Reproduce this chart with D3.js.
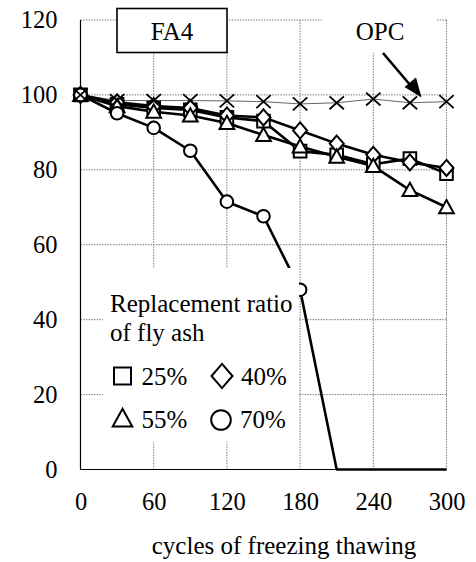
<!DOCTYPE html>
<html>
<head>
<meta charset="utf-8">
<script src="https://cdn.jsdelivr.net/npm/d3@7"></script>
<style>
  html, body { margin: 0; padding: 0; background: #fff; }
  svg { display: block; }
</style>
</head>
<body>
<svg id="chart" width="476" height="562"></svg>
<script>
// Freeze-thaw cycles (x) and relative dynamic modulus (%) for each fly ash replacement ratio
const cycles = [0, 30, 60, 90, 120, 150, 180, 210, 240, 270, 300];
const fa25 = [100, 97.5, 96.5, 96, 94, 93, 85, 84, 81.5, 83, 79];
const fa40 = [100, 98, 97, 96.5, 94.5, 94, 90.5, 87, 84, 82, 80.5];
const fa55 = [100, 97, 95.5, 94.5, 92.5, 89.3, 86.2, 83.5, 81, 74.6, 70];
const fa70 = [100, 95.1, 91.2, 85.1, 71.5, 67.6, 48, 0, 0, 0, 0];
const opc  = [100, 98.5, 98.5, 98.5, 98.4, 98.2, 97.6, 97.9, 98.9, 97.9, 98.2];

const xTicks = [0, 60, 120, 180, 240, 300];
const yTicks = [0, 20, 40, 60, 80, 100, 120];

const seriesNames = ["25%", "40%", "55%", "70%"];
const seriesShapes = ["square", "diamond", "triangle", "circle"];
const seriesValues = [fa25, fa40, fa55, fa70];

const xTitle = "cycles of freezing thawing";
const panelTitle = "FA4";
const opcLabel = "OPC";
const legendTitle = ["Replacement ratio", "of fly ash"];

const FONT = '"Liberation Serif"';

const svg = d3.select("#chart").style("font-family", FONT);
const x = d3.scaleLinear().domain([0, 300]).range([80.5, 446.5]);
const y = d3.scaleLinear().domain([0, 120]).range([469.5, 20]);

function label(sel, size) {
  return sel.style("font-family", FONT).attr("font-size", size).attr("fill", "#000");
}

// Custom outline symbols; size is the half-extent in pixels
const shapes = {
  square: { draw(c, s) { c.moveTo(-s, -s); c.lineTo(s, -s); c.lineTo(s, s); c.lineTo(-s, s); c.closePath(); } },
  diamond: { draw(c, s) { const w = s * 1.0, h = s * 1.15; c.moveTo(0, -h); c.lineTo(w, 0); c.lineTo(0, h); c.lineTo(-w, 0); c.closePath(); } },
  triangle: { draw(c, s) { const h = s * 1.9; c.moveTo(0, -h * 0.55); c.lineTo(s * 1.05, h * 0.45); c.lineTo(-s * 1.05, h * 0.45); c.closePath(); } },
  circle: { draw(c, s) { c.moveTo(s, 0); c.arc(0, 0, s, 0, 2 * Math.PI); } },
  times: { draw(c, s) { const h = s * 0.9; c.moveTo(-s, -h); c.lineTo(s, h); c.moveTo(s, -h); c.lineTo(-s, h); } }
};
const markerSize = { square: 6.3, diamond: 7, triangle: 7, circle: 6.3, times: 7.2 };

// Dotted grid
const grid = svg.append("g").attr("stroke", "#7a7a7a").attr("stroke-width", 1)
  .attr("stroke-dasharray", "1.5,1.2");
grid.selectAll("line.gx").data(xTicks.filter(d => d > 0)).join("line")
  .attr("x1", d => x(d)).attr("x2", d => x(d))
  .attr("y1", y(120)).attr("y2", y(0));
grid.selectAll("line.gy").data(yTicks.filter(d => d > 0)).join("line")
  .attr("x1", x(0)).attr("x2", x(300))
  .attr("y1", d => y(d)).attr("y2", d => y(d));

// White area behind the OPC callout
svg.append("rect").attr("x", 322).attr("y", 0).attr("width", 115).attr("height", 53).attr("fill", "#fff");

// Axes: solid left and bottom lines, labels from d3 axes
svg.append("line").attr("x1", x(0)).attr("x2", x(0)).attr("y1", y(120)).attr("y2", y(0))
  .attr("stroke", "#000").attr("stroke-width", 1.2);
svg.append("line").attr("x1", x(0)).attr("x2", x(300)).attr("y1", y(0)).attr("y2", y(0))
  .attr("stroke", "#000").attr("stroke-width", 1.2);

const yAxis = svg.append("g").attr("transform", `translate(${x(0)},0)`)
  .call(d3.axisLeft(y).tickValues(yTicks).tickSize(0).tickPadding(23).tickFormat(d3.format("d")));
const xAxis = svg.append("g").attr("transform", `translate(0,${y(0)})`)
  .call(d3.axisBottom(x).tickValues(xTicks).tickSize(0).tickPadding(23).tickFormat(d3.format("d")));
[yAxis, xAxis].forEach(a => {
  a.select(".domain").remove();
  a.attr("font-family", null).attr("font-size", null);
  label(a.selectAll("text"), 24.5);
});

label(svg.append("text").attr("x", 284).attr("y", 554).attr("text-anchor", "middle"), 25).text(xTitle);

// OPC reference line (thin)
const opcPts = cycles.map((c, i) => [c, opc[i]]);
svg.append("path").datum(opcPts)
  .attr("d", d3.line().x(d => x(d[0])).y(d => y(d[1])))
  .attr("fill", "none").attr("stroke", "#666").attr("stroke-width", 1);

// Fly ash series: thick lines with hollow markers
const line = d3.line().x(d => x(d[0])).y(d => y(d[1]));
seriesValues.forEach(vals => {
  const pts = cycles.map((c, i) => [c, vals[i]]);
  svg.append("path").datum(pts).attr("d", line)
    .attr("fill", "none").attr("stroke", "#000").attr("stroke-width", 2.6)
    .attr("stroke-linejoin", "round");
});
seriesValues.forEach((vals, k) => {
  const shape = seriesShapes[k];
  const pts = cycles.map((c, i) => [c, vals[i]]).filter(d => d[1] > 0);
  svg.append("g").selectAll("path").data(pts).join("path")
    .attr("transform", d => `translate(${x(d[0])},${y(d[1])})`)
    .attr("d", d3.symbol().type(shapes[shape]).size(markerSize[shape]))
    .attr("fill", "#fff").attr("stroke", "#000").attr("stroke-width", 2);
});
svg.append("g").selectAll("path").data(opcPts).join("path")
  .attr("transform", d => `translate(${x(d[0])},${y(d[1])})`)
  .attr("d", d3.symbol().type(shapes.times).size(markerSize.times))
  .attr("fill", "none").attr("stroke", "#000").attr("stroke-width", 1.8);

// Legend panel
svg.append("rect").attr("x", 103).attr("y", 268).attr("width", 196).attr("height", 174).attr("fill", "#fff");
legendTitle.forEach((t, i) => {
  label(svg.append("text").attr("x", 110).attr("y", 312 + i * 29), 25).text(t);
});
const legendPos = [[122.5, 385], [222, 385], [122.5, 428], [221, 428]];
seriesNames.forEach((name, k) => {
  const [lx, ly] = legendPos[k];
  const shape = seriesShapes[k];
  const sz = { square: 8.5, diamond: 10.5, triangle: 9.3, circle: 9.8 }[shape];
  const cy = { square: ly - 9, diamond: ly - 9, triangle: ly - 9.5, circle: ly - 8 }[shape];
  svg.append("path").attr("transform", `translate(${lx},${cy})`)
    .attr("d", d3.symbol().type(shapes[shape]).size(sz))
    .attr("fill", "none").attr("stroke", "#000").attr("stroke-width", 2);
  label(svg.append("text").attr("x", lx + 19).attr("y", ly), 25).text(name);
});

// Panel label box
svg.append("rect").attr("x", 117).attr("y", 8.5).attr("width", 110).attr("height", 44)
  .attr("fill", "#fff").attr("stroke", "#000").attr("stroke-width", 1.6);
label(svg.append("text").attr("x", 172).attr("y", 40).attr("text-anchor", "middle"), 25).text(panelTitle);

// OPC callout with arrow
label(svg.append("text").attr("x", 380).attr("y", 40).attr("text-anchor", "middle"), 25).text(opcLabel);
svg.append("line").attr("x1", 383).attr("y1", 53).attr("x2", 411).attr("y2", 86)
  .attr("stroke", "#000").attr("stroke-width", 2.6);
svg.append("path").attr("d", "M421.5,97.5 L404.5,87 L416,77.5 Z").attr("fill", "#000");
</script>
</body>
</html>
